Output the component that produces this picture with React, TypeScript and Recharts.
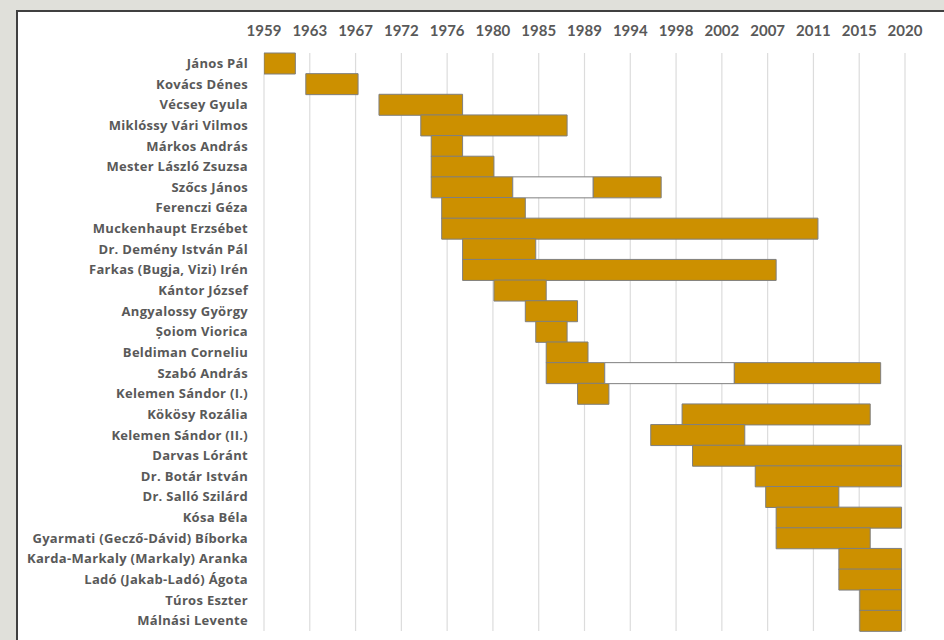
import { Bar, BarChart, CartesianGrid, XAxis, YAxis } from "recharts";

// Timeline of tenures, one row per person. Years are decimal (1982.8 = late 1982).
const NAMES = [
  "János Pál",
  "Kovács Dénes",
  "Vécsey Gyula",
  "Miklóssy Vári Vilmos",
  "Márkos András",
  "Mester László Zsuzsa",
  "Szőcs János",
  "Ferenczi Géza",
  "Muckenhaupt Erzsébet",
  "Dr. Demény István Pál",
  "Farkas (Bugja, Vizi) Irén",
  "Kántor József",
  "Angyalossy György",
  "Șoiom Viorica",
  "Beldiman Corneliu",
  "Szabó András",
  "Kelemen Sándor (I.)",
  "Kökösy Rozália",
  "Kelemen Sándor (II.)",
  "Darvas Lóránt",
  "Dr. Botár István",
  "Dr. Salló Szilárd",
  "Kósa Béla",
  "Gyarmati (Gecző-Dávid) Bíborka",
  "Karda-Markaly (Markaly) Aranka",
  "Ladó (Jakab-Ladó) Ágota",
  "Túros Eszter",
  "Málnási Levente",
];

// first period
const START = [
  1959, 1963, 1970, 1974, 1975, 1975, 1975, 1976, 1976, 1978, 1978, 1981, 1984, 1985,
  1986, 1986, 1989, 1999, 1996, 2000, 2006, 2007, 2008, 2008, 2014, 2014, 2016, 2016,
];
const END = [
  1962, 1968, 1978, 1988, 1978, 1981, 1982.8, 1984, 2012, 1985, 2008, 1986, 1989, 1988,
  1990, 1991.6, 1992, 2017, 2005, 2020, 2020, 2014, 2020, 2017, 2020, 2020, 2020, 2020,
];

// second period after a break (0 = none)
const START2 = [
  0, 0, 0, 0, 0, 0, 1990.5, 0, 0, 0, 0, 0, 0, 0,
  0, 2004, 0, 0, 0, 0, 0, 0, 0, 0, 0, 0, 0, 0,
];
const END2 = [
  0, 0, 0, 0, 0, 0, 1997, 0, 0, 0, 0, 0, 0, 0,
  0, 2018, 0, 0, 0, 0, 0, 0, 0, 0, 0, 0, 0, 0,
];

const TICK_YEARS = [
  "1959", "1963", "1967", "1972", "1976", "1980", "1985", "1989",
  "1994", "1998", "2002", "2007", "2011", "2015", "2020",
];

const AXIS_MIN = 1959;
const TICK_STEP = 1600 / 365.25; // major unit of 1600 days
const AXIS_SPAN = (TICK_YEARS.length - 1) * TICK_STEP;
const TICKS = TICK_YEARS.map((_, i) => i * TICK_STEP);

const data = NAMES.map((name, i) => ({
  name,
  offset: START[i] - AXIS_MIN,
  first: END[i] - START[i],
  gap: START2[i] ? START2[i] - END[i] : 0,
  second: START2[i] ? END2[i] - START2[i] : 0,
}));

const GOLD = "#cc9000";
const EDGE = "#7f7f7f";
const TEXT = "#595959";

export default function App() {
  return (
    <div
      style={{
        position: "absolute",
        left: 0,
        top: 0,
        width: 944,
        height: 640,
        background: "#e0e0da",
        overflow: "hidden",
      }}
    >
      <div
        style={{
          position: "absolute",
          left: 16,
          top: 10,
          width: 960,
          height: 660,
          background: "#ffffff",
          borderLeft: "2px solid #404040",
          borderTop: "2px solid #404040",
        }}
      />
      <div style={{ position: "absolute", left: 0, top: 0 }}>
        <BarChart
          width={944}
          height={640}
          data={data}
          layout="vertical"
          barCategoryGap={0}
          margin={{ top: 0, right: 39, bottom: 9, left: 0 }}
        >
          <CartesianGrid horizontal={false} stroke="#dcdcdc" strokeWidth={1.2} />
          <XAxis
            type="number"
            orientation="top"
            domain={[0, AXIS_SPAN]}
            ticks={TICKS}
            interval={0}
            allowDataOverflow
            height={53}
            axisLine={false}
            tickLine={false}
            tickSize={0}
            tickMargin={17}
            tickFormatter={(_v: number, i: number) => TICK_YEARS[i]}
            tick={{ fill: TEXT, fontSize: 15, fontWeight: 700, fontFamily: "Lato, sans-serif" }}
          />
          <YAxis
            type="category"
            dataKey="name"
            width={264}
            interval={0}
            axisLine={false}
            tickLine={false}
            tickSize={0}
            tickMargin={16}
            tick={{
              fill: TEXT,
              fontSize: 13,
              fontWeight: 700,
              fontFamily: "'Open Sans', sans-serif",
              letterSpacing: 0.3,
            }}
          />
          <Bar dataKey="offset" stackId="t" fill="transparent" isAnimationActive={false} />
          <Bar dataKey="first" stackId="t" fill={GOLD} stroke={EDGE} strokeWidth={1} isAnimationActive={false} />
          <Bar dataKey="gap" stackId="t" fill="#ffffff" stroke={EDGE} strokeWidth={1} isAnimationActive={false} />
          <Bar dataKey="second" stackId="t" fill={GOLD} stroke={EDGE} strokeWidth={1} isAnimationActive={false} />
        </BarChart>
      </div>
    </div>
  );
}
